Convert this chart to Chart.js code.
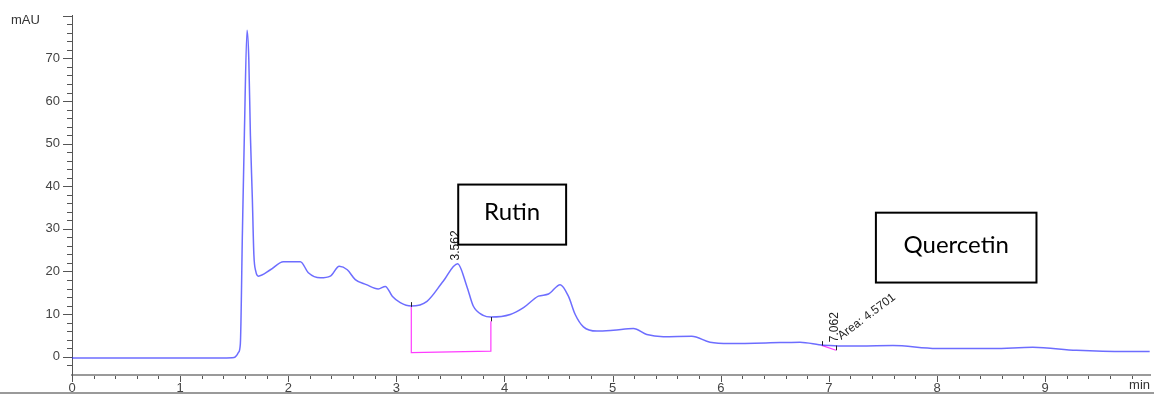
<!DOCTYPE html>
<html lang="en">
<head>
  <meta charset="UTF-8">
  <title>Chromatogram</title>
  <script src="https://cdn.jsdelivr.net/npm/chart.js"></script>
  <style>
    body { margin: 0; background: #fff; }
    .wrap { width: 1154px; height: 392px; border-bottom: 2px solid #9a9a9a; }
  </style>
</head>
<body>
  <div class="wrap"><canvas id="chromChart" width="1154" height="392"></canvas></div>
  <script>
    // retention time (min) and signal (mAU)
    const times = [0, 0.5, 1.0, 1.4, 1.5, 1.52, 1.54, 1.557, 1.576, 1.594, 1.619, 1.635, 1.650, 1.668, 1.682, 1.70, 1.724,
      1.835, 1.955, 2.112, 2.186, 2.297, 2.389, 2.472, 2.546, 2.620, 2.722, 2.833, 2.898, 2.962, 3.036, 3.138, 3.283,
      3.433, 3.566, 3.652, 3.711, 3.803, 3.874, 4.053, 4.176, 4.314, 4.407, 4.515, 4.591, 4.654, 4.730, 4.854, 5.007,
      5.192, 5.316, 5.469, 5.732, 5.901, 6.086, 6.548, 6.733, 6.948, 7.287, 7.592, 7.996, 8.519, 8.886, 9.290, 9.752, 9.967];
    const signal = [-0.3, -0.3, -0.3, -0.3, -0.2, 0.2, 1.0, 3, 29, 52, 76.6, 70, 52, 37, 24, 20, 18.9,
      20.4, 22.3, 22.3, 19.7, 18.5, 18.9, 21.2, 20.4, 18.1, 16.9, 15.9, 16.5, 14.2, 12.7, 11.9, 13,
      17.7, 21.8, 16.5, 11.9, 9.7, 9.3, 9.9, 11.5, 14.2, 14.7, 16.9, 14.2, 9.9, 7, 6, 6.2,
      6.6, 5.2, 4.7, 4.8, 3.4, 3.1, 3.3, 3.4, 2.7, 2.5, 2.6, 1.9, 1.9, 2.2, 1.5, 1.2, 1.2];

    const xTicks = [0, 1, 2, 3, 4, 5, 6, 7, 8, 9];
    const yTicks = [0, 10, 20, 30, 40, 50, 60, 70];

    // integration baselines (magenta) and their start/end marks
    const rutinBaseX = [3.138, 3.138, 3.874, 3.874];
    const rutinBaseY = [11.7, 0.95, 1.3, 8.3];
    const quercBaseX = [6.933, 7.066];
    const quercBaseY = [2.65, 1.5];
    const peakMarks = [
      { x: 3.138, y0: 11.7, y1: 12.8 }, { x: 3.874, y0: 8.3, y1: 9.3 },
      { x: 6.933, y0: 2.65, y1: 3.65 }, { x: 7.066, y0: 1.5, y1: 2.6 }
    ];
    const peakLabels = [
      { text: '3.562', x: 3.55, y: 22.6, angle: -90 },
      { text: '7.062', x: 7.052, y: 3.4, angle: -90 },
      { text: 'Area: 4.5701', x: 7.13, y: 3.4, angle: -37 }
    ];
    const nameBoxes = [
      { text: 'Rutin', x0: 3.572, x1: 4.57, y0: 40.4, y1: 26.3 },
      { text: 'Quercetin', x0: 7.435, x1: 8.92, y0: 33.8, y1: 17.4 }
    ];

    const toPts = (xs, ys) => xs.map((x, i) => ({ x: x, y: ys[i] }));

    const decor = {
      id: 'decor',
      afterDraw(chart) {
        const c = chart.ctx, xs = chart.scales.x, ys = chart.scales.y, a = chart.chartArea;
        c.save();
        // axis ticks, major and minor
        c.strokeStyle = '#555';
        c.lineWidth = 1;
        c.beginPath();
        for (let i = 0; i <= 49; i++) {
          const px = Math.round(xs.getPixelForValue(i / 5)) + 0.5;
          c.moveTo(px, a.bottom + 1);
          c.lineTo(px, a.bottom + (i % 5 === 0 ? 7 : 4));
        }
        for (let v = -2; v <= 80; v += 2) {
          const py = Math.round(ys.getPixelForValue(v)) + 0.5;
          c.moveTo(a.left - (v % 10 === 0 ? 9 : 5), py);
          c.lineTo(a.left, py);
        }
        c.stroke();

        // start/end marks of integrated peaks
        c.strokeStyle = '#222';
        c.beginPath();
        peakMarks.forEach(m => {
          const px = Math.round(xs.getPixelForValue(m.x)) + 0.5;
          c.moveTo(px, ys.getPixelForValue(m.y0));
          c.lineTo(px, ys.getPixelForValue(m.y1));
        });
        c.stroke();

        // axis titles
        c.fillStyle = '#333';
        c.font = '13px "Liberation Sans", Arial, sans-serif';
        c.textAlign = 'left';
        c.textBaseline = 'middle';
        c.fillText('mAU', a.left - 61, a.top + 5);
        c.font = '13px "Liberation Sans", Arial, sans-serif';
        c.textAlign = 'right';
        c.textBaseline = 'bottom';
        c.fillText('min', a.right, a.bottom + 17);

        // peak labels
        c.fillStyle = '#222';
        c.font = '12px "Liberation Sans", Arial, sans-serif';
        peakLabels.forEach(l => {
          c.save();
          c.translate(xs.getPixelForValue(l.x), ys.getPixelForValue(l.y));
          c.rotate(l.angle * Math.PI / 180);
          c.textAlign = 'left';
          c.textBaseline = l.angle === -90 ? 'middle' : 'bottom';
          c.fillText(l.text, 0, 0);
          c.restore();
        });

        // compound name boxes
        nameBoxes.forEach(b => {
          const x0 = xs.getPixelForValue(b.x0), x1 = xs.getPixelForValue(b.x1);
          const y0 = ys.getPixelForValue(b.y0), y1 = ys.getPixelForValue(b.y1);
          c.fillStyle = '#fff';
          c.fillRect(x0, y0, x1 - x0, y1 - y0);
          c.strokeStyle = '#000';
          c.lineWidth = 2;
          c.strokeRect(x0, y0, x1 - x0, y1 - y0);
          c.fillStyle = '#000';
          c.font = '24px Lato, "Open Sans", sans-serif';
          c.textAlign = 'center';
          c.textBaseline = 'middle';
          c.fillText(b.text, (x0 + x1) / 2, (y0 + y1) / 2 - 2);
        });
        c.restore();
      }
    };

    new Chart(document.getElementById('chromChart'), {
      type: 'line',
      data: {
        datasets: [
          {
            data: toPts(times, signal),
            borderColor: 'rgba(30, 30, 255, 0.65)',
            borderWidth: 1.5,
            pointRadius: 0,
            cubicInterpolationMode: 'monotone',
            fill: false
          },
          {
            data: toPts(rutinBaseX, rutinBaseY),
            borderColor: '#ff3cff',
            borderWidth: 1.2,
            pointRadius: 0,
            tension: 0
          },
          {
            data: toPts(quercBaseX, quercBaseY),
            borderColor: '#ff3cff',
            borderWidth: 1.2,
            pointRadius: 0,
            tension: 0
          }
        ]
      },
      options: {
        responsive: false,
        animation: false,
        layout: { padding: { top: 15, right: 4, left: 0, bottom: 0 } },
        plugins: { legend: { display: false }, tooltip: { enabled: false } },
        scales: {
          x: {
            type: 'linear',
            min: 0,
            max: 9.97,
            afterBuildTicks: s => { s.ticks = xTicks.map(v => ({ value: v })); },
            afterFit: s => { s.height = 17; },
            grid: { display: false, drawTicks: true, tickLength: 6 },
            border: { display: true, color: '#9a9a9a', width: 2 },
            ticks: {
              color: '#444',
              font: { size: 13, family: '"Liberation Sans", Arial, sans-serif' },
              padding: 0,
              maxRotation: 0,
              autoSkip: false
            }
          },
          y: {
            min: -4.3,
            max: 80.2,
            afterBuildTicks: s => { s.ticks = yTicks.map(v => ({ value: v })); },
            afterFit: s => { s.width = 72; },
            grid: { display: false, drawTicks: true, tickLength: 9 },
            border: { display: true, color: '#555', width: 1 },
            ticks: {
              color: '#444',
              font: { size: 13, family: '"Liberation Sans", Arial, sans-serif' },
              padding: 3,
              autoSkip: false
            }
          }
        }
      },
      plugins: [decor]
    });
  </script>
</body>
</html>
